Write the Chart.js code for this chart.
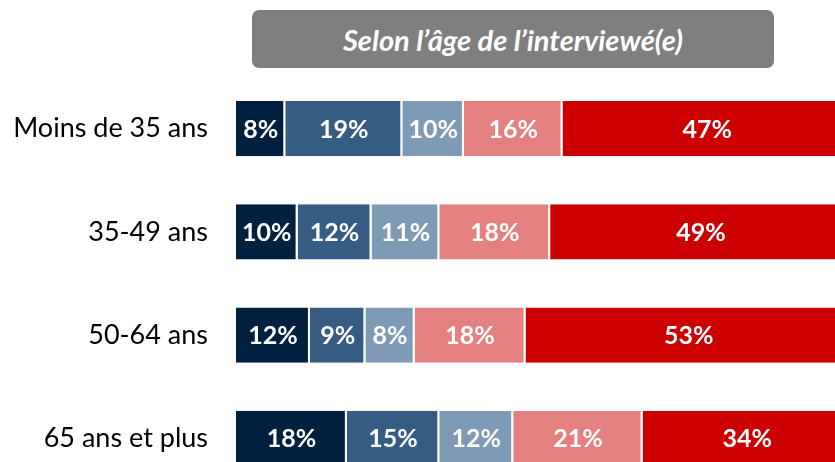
<!DOCTYPE html>
<html lang="fr">

<head>
    <meta http-equiv="Content-Type" content="text/html;charset=UTF-8">
    <title>Selon l'âge</title>
    <script src="https://cdn.jsdelivr.net/npm/chart.js@4.4.0/dist/chart.umd.min.js"></script>
</head>

<body style="margin: 0; background: white; overflow: hidden; font-family: Lato, sans-serif;">

    <div style="position: relative; width: 835px; height: 462px; overflow: hidden;">
        <div
            style="position: absolute; left: 252px; top: 10px; width: 522px; height: 58px; background: #7f7f7f; border-radius: 7px; color: white; font-style: italic; font-weight: 700; font-size: 29px; display: flex; align-items: center; justify-content: center; z-index: 2;">
            Selon l’âge de l’interviewé(e)
        </div>
        <!-- the plot runs a little past the right edge, as in the original slide -->
        <canvas id="barchart" width="852" height="490" style="display: block;"></canvas>
    </div>

    <script>
        var categories = ["Moins de 35 ans", "35-49 ans", "50-64 ans", "65 ans et plus"];
        var seriesA = [8, 10, 12, 18];
        var seriesB = [19, 12, 9, 15];
        var seriesC = [10, 11, 8, 12];
        var seriesD = [16, 18, 18, 21];
        var seriesE = [47, 49, 53, 34];
        var colors = ['#002040', '#365C84', '#7F9AB4', '#E48080', '#CC0000'];

        // percent labels in the middle of every segment
        var segmentLabels = {
            id: 'segmentLabels',
            afterDatasetsDraw: function (chart) {
                var ctx = chart.ctx;
                ctx.save();
                ctx.fillStyle = 'white';
                ctx.font = 'bold 25px Lato, sans-serif';
                ctx.textAlign = 'center';
                ctx.textBaseline = 'middle';
                chart.data.datasets.forEach(function (ds, i) {
                    chart.getDatasetMeta(i).data.forEach(function (bar, j) {
                        var mid = (bar.x + bar.base) / 2;
                        ctx.fillText(ds.data[j] + '%', mid, bar.y + 1);
                    });
                });
                ctx.restore();
            }
        };

        var all = [seriesA, seriesB, seriesC, seriesD, seriesE];
        new Chart(document.getElementById('barchart').getContext('2d'), {
            type: 'bar',
            data: {
                labels: categories,
                datasets: all.map(function (d, i) {
                    return {
                        data: d,
                        backgroundColor: colors[i],
                        borderColor: 'white',
                        borderWidth: { top: 0, bottom: 0, left: 0, right: 2 },
                        borderSkipped: false,
                        categoryPercentage: 1,
                        barPercentage: 0.535
                    };
                })
            },
            options: {
                indexAxis: 'y',
                responsive: false,
                animation: false,
                layout: { padding: { top: 77, right: 0, bottom: 0, left: 0 } },
                scales: {
                    x: {
                        stacked: true,
                        min: 0,
                        max: 100,
                        display: false
                    },
                    y: {
                        stacked: true,
                        grid: { display: false, drawTicks: false },
                        border: { display: false },
                        ticks: {
                            color: '#000',
                            padding: 28,
                            font: { family: 'Lato, sans-serif', size: 27 }
                        },
                        afterFit: function (scale) {
                            scale.width = 236;
                            scale.paddingTop = 0;
                            scale.paddingBottom = 0;
                        }
                    }
                },
                plugins: {
                    legend: { display: false },
                    tooltip: { enabled: false }
                }
            },
            plugins: [segmentLabels]
        });
    </script>

</body>

</html>
